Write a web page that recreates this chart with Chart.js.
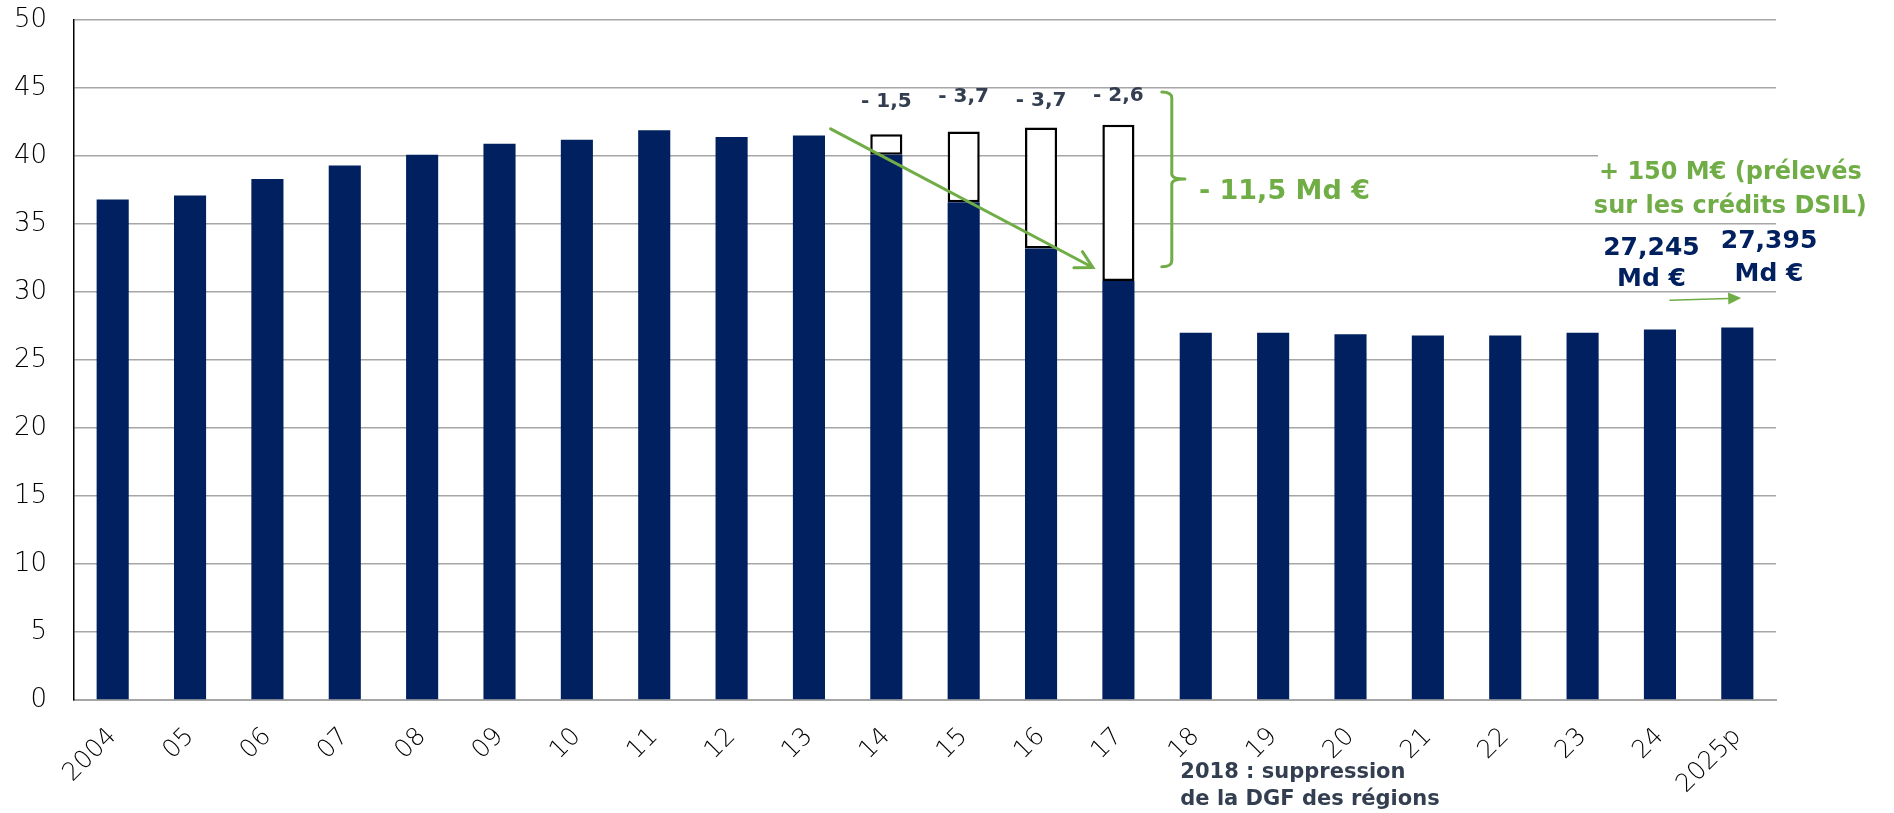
<!DOCTYPE html>
<html>
<head>
<meta charset="utf-8">
<script src="https://cdn.jsdelivr.net/npm/chart.js@4/dist/chart.umd.min.js"></script>
<style>
  html, body { margin: 0; padding: 0; background: #fff; }
  canvas { display: block; }
</style>
</head>
<body>
<canvas id="dgf-chart" width="1894" height="813"></canvas>
<script>
// DGF (Md €), 2004 - 2025p
const years = ['2004', '05', '06', '07', '08', '09', '10', '11', '12', '13', '14', '15', '16', '17', '18', '19', '20', '21', '22', '23', '24', '2025p'];
const dgfValues = [36.8, 37.1, 38.3, 39.3, 40.1, 40.9, 41.2, 41.9, 41.4, 41.5, 40.1, 36.6, 33.2, 30.8, 27.0, 27.0, 26.9, 26.8, 26.8, 27.0, 27.245, 27.395];
// cumulative cut shown as empty box on top of the bar (2014-2017)
const cutCumul = [null, null, null, null, null, null, null, null, null, null, 1.5, 5.2, 8.9, 11.5, null, null, null, null, null, null, null, null];
const cutLabels = ['- 1,5', '- 3,7', '- 3,7', '- 2,6'];
const cutYears = ['14', '15', '16', '17'];
const yTicks = [0, 5, 10, 15, 20, 25, 30, 35, 40, 45, 50];

const NAVY = '#002060';
const GREEN = '#70ad47';
const SLATE = '#333f50';
const FONT = '"DejaVu Sans", sans-serif';

function drawLineArrow(ctx, x1, y1, x2, y2, head) {
  let a = Math.atan2(y2 - y1, x2 - x1);
  ctx.beginPath();
  ctx.moveTo(x1, y1);
  ctx.lineTo(x2, y2);
  ctx.moveTo(x2 - head * Math.cos(a - 0.5), y2 - head * Math.sin(a - 0.5));
  ctx.lineTo(x2, y2);
  ctx.lineTo(x2 - head * Math.cos(a + 0.5), y2 - head * Math.sin(a + 0.5));
  ctx.stroke();
}

function drawFilledArrow(ctx, x1, y1, x2, y2, head, half) {
  let a = Math.atan2(y2 - y1, x2 - x1);
  let bx = x2 - head * Math.cos(a), by = y2 - head * Math.sin(a);
  ctx.beginPath();
  ctx.moveTo(x1, y1);
  ctx.lineTo(bx, by);
  ctx.stroke();
  ctx.beginPath();
  ctx.moveTo(x2, y2);
  ctx.lineTo(bx + half * Math.sin(a), by - half * Math.cos(a));
  ctx.lineTo(bx - half * Math.sin(a), by + half * Math.cos(a));
  ctx.closePath();
  ctx.fill();
}

const annotations = {
  id: 'annotations',
  beforeDatasetsDraw(chart) {
    // white patch behind the "+150 M€" note hides the 40 gridline there
    let ctx = chart.ctx, x = chart.scales.x, y = chart.scales.y;
    ctx.save();
    ctx.fillStyle = '#fff';
    ctx.fillRect(x.getPixelForValue(19.2), y.getPixelForValue(41.0), 400, 30);
    ctx.restore();
  },
  afterDraw(chart) {
    let ctx = chart.ctx, x = chart.scales.x, y = chart.scales.y;
    ctx.save();

    // labels above the cut boxes
    ctx.fillStyle = SLATE;
    ctx.font = 'bold 20px ' + FONT;
    ctx.textAlign = 'center';
    ctx.textBaseline = 'middle';
    let labelY = [44.0, 44.35, 44.05, 44.4];
    cutLabels.forEach(function(lbl, i) {
      ctx.fillText(lbl, x.getPixelForValue(years.indexOf(cutYears[i])), y.getPixelForValue(labelY[i]));
    });

    // falling green arrow
    ctx.strokeStyle = GREEN;
    ctx.fillStyle = GREEN;
    ctx.lineWidth = 3;
    ctx.lineCap = 'round';
    drawLineArrow(ctx, x.getPixelForValue(9.28), y.getPixelForValue(42.0),
                  x.getPixelForValue(12.67), y.getPixelForValue(31.8), 19);

    // brace
    let xb = x.getPixelForValue(13.69), xt = x.getPixelForValue(13.86);
    let yTop = y.getPixelForValue(44.7), yMid = y.getPixelForValue(38.3), yBot = y.getPixelForValue(31.85);
    ctx.beginPath();
    ctx.moveTo(xb - 10, yTop);
    ctx.quadraticCurveTo(xb, yTop, xb, yTop + 6);
    ctx.lineTo(xb, yMid - 5);
    ctx.quadraticCurveTo(xb, yMid, xt, yMid);
    ctx.moveTo(xt, yMid);
    ctx.quadraticCurveTo(xb, yMid, xb, yMid + 5);
    ctx.lineTo(xb, yBot - 6);
    ctx.quadraticCurveTo(xb, yBot, xb - 10, yBot);
    ctx.stroke();

    ctx.textAlign = 'left';
    ctx.font = 'bold 27px ' + FONT;
    ctx.fillText('- 11,5 Md €', xt + 14, y.getPixelForValue(37.35));

    // note on the right
    ctx.textAlign = 'center';
    ctx.font = 'bold 24px ' + FONT;
    let cx = x.getPixelForValue(20.91);
    ctx.fillText('+ 150 M€ (prélevés', cx, y.getPixelForValue(38.75));
    ctx.fillText('sur les crédits DSIL)', cx, y.getPixelForValue(36.25));

    ctx.fillStyle = NAVY;
    ctx.font = 'bold 25px ' + FONT;
    let c1 = x.getPixelForValue(19.89), c2 = x.getPixelForValue(21.41);
    ctx.fillText('27,245', c1, y.getPixelForValue(33.2));
    ctx.fillText('Md €', c1, y.getPixelForValue(30.9));
    ctx.fillText('27,395', c2, y.getPixelForValue(33.7));
    ctx.fillText('Md €', c2, y.getPixelForValue(31.3));

    ctx.strokeStyle = GREEN;
    ctx.fillStyle = GREEN;
    ctx.lineWidth = 1.5;
    drawFilledArrow(ctx, x.getPixelForValue(20.13), y.getPixelForValue(29.4),
                    x.getPixelForValue(21.05), y.getPixelForValue(29.56), 13, 6);

    // note under the axis
    ctx.fillStyle = SLATE;
    ctx.textAlign = 'left';
    ctx.font = 'bold 21px ' + FONT;
    let nx = x.getPixelForValue(13.8), base = y.getPixelForValue(0);
    ctx.fillText('2018 : suppression', nx, base + 73);
    ctx.fillText('de la DGF des régions', nx, base + 100);

    ctx.restore();
  }
};

new Chart(document.getElementById('dgf-chart'), {
  type: 'bar',
  data: {
    labels: years,
    datasets: [
      {
        label: 'DGF',
        data: dgfValues,
        backgroundColor: NAVY,
        borderWidth: 0
      },
      {
        label: 'Baisse cumulée',
        data: cutCumul,
        backgroundColor: '#ffffff',
        borderColor: '#000000',
        borderWidth: 2.5,
        borderSkipped: false
      }
    ]
  },
  options: {
    responsive: false,
    devicePixelRatio: 1,
    animation: false,
    layout: { padding: { top: 20, right: 118, bottom: 0, left: 0 } },
    datasets: { bar: { categoryPercentage: 1, barPercentage: 0.415 } },
    plugins: {
      legend: { display: false },
      tooltip: { enabled: false }
    },
    scales: {
      x: {
        stacked: true,
        grid: { display: false },
        border: { color: '#a6a6a6', width: 2 },
        ticks: {
          color: '#000',
          font: { family: FONT, size: 25, weight: '200' },
          minRotation: 45,
          maxRotation: 45,
          autoSkip: false,
          padding: 14
        },
        afterFit: function(s) { s.height = 113; s.paddingLeft = 0; s.paddingRight = 0; }
      },
      y: {
        stacked: true,
        min: 0,
        max: 50,
        afterBuildTicks: function(s) { s.ticks = yTicks.map(function(v) { return { value: v }; }); },
        grid: { color: '#a6a6a6', lineWidth: 1.5, drawTicks: false },
        border: { color: '#000', width: 1.5 },
        ticks: {
          color: '#000',
          font: { family: FONT, size: 26, weight: '200' },
          padding: 27
        },
        afterFit: function(s) { s.width = 74; s.paddingTop = 0; s.paddingBottom = 0; }
      }
    }
  },
  plugins: [annotations]
});
</script>
</body>
</html>
